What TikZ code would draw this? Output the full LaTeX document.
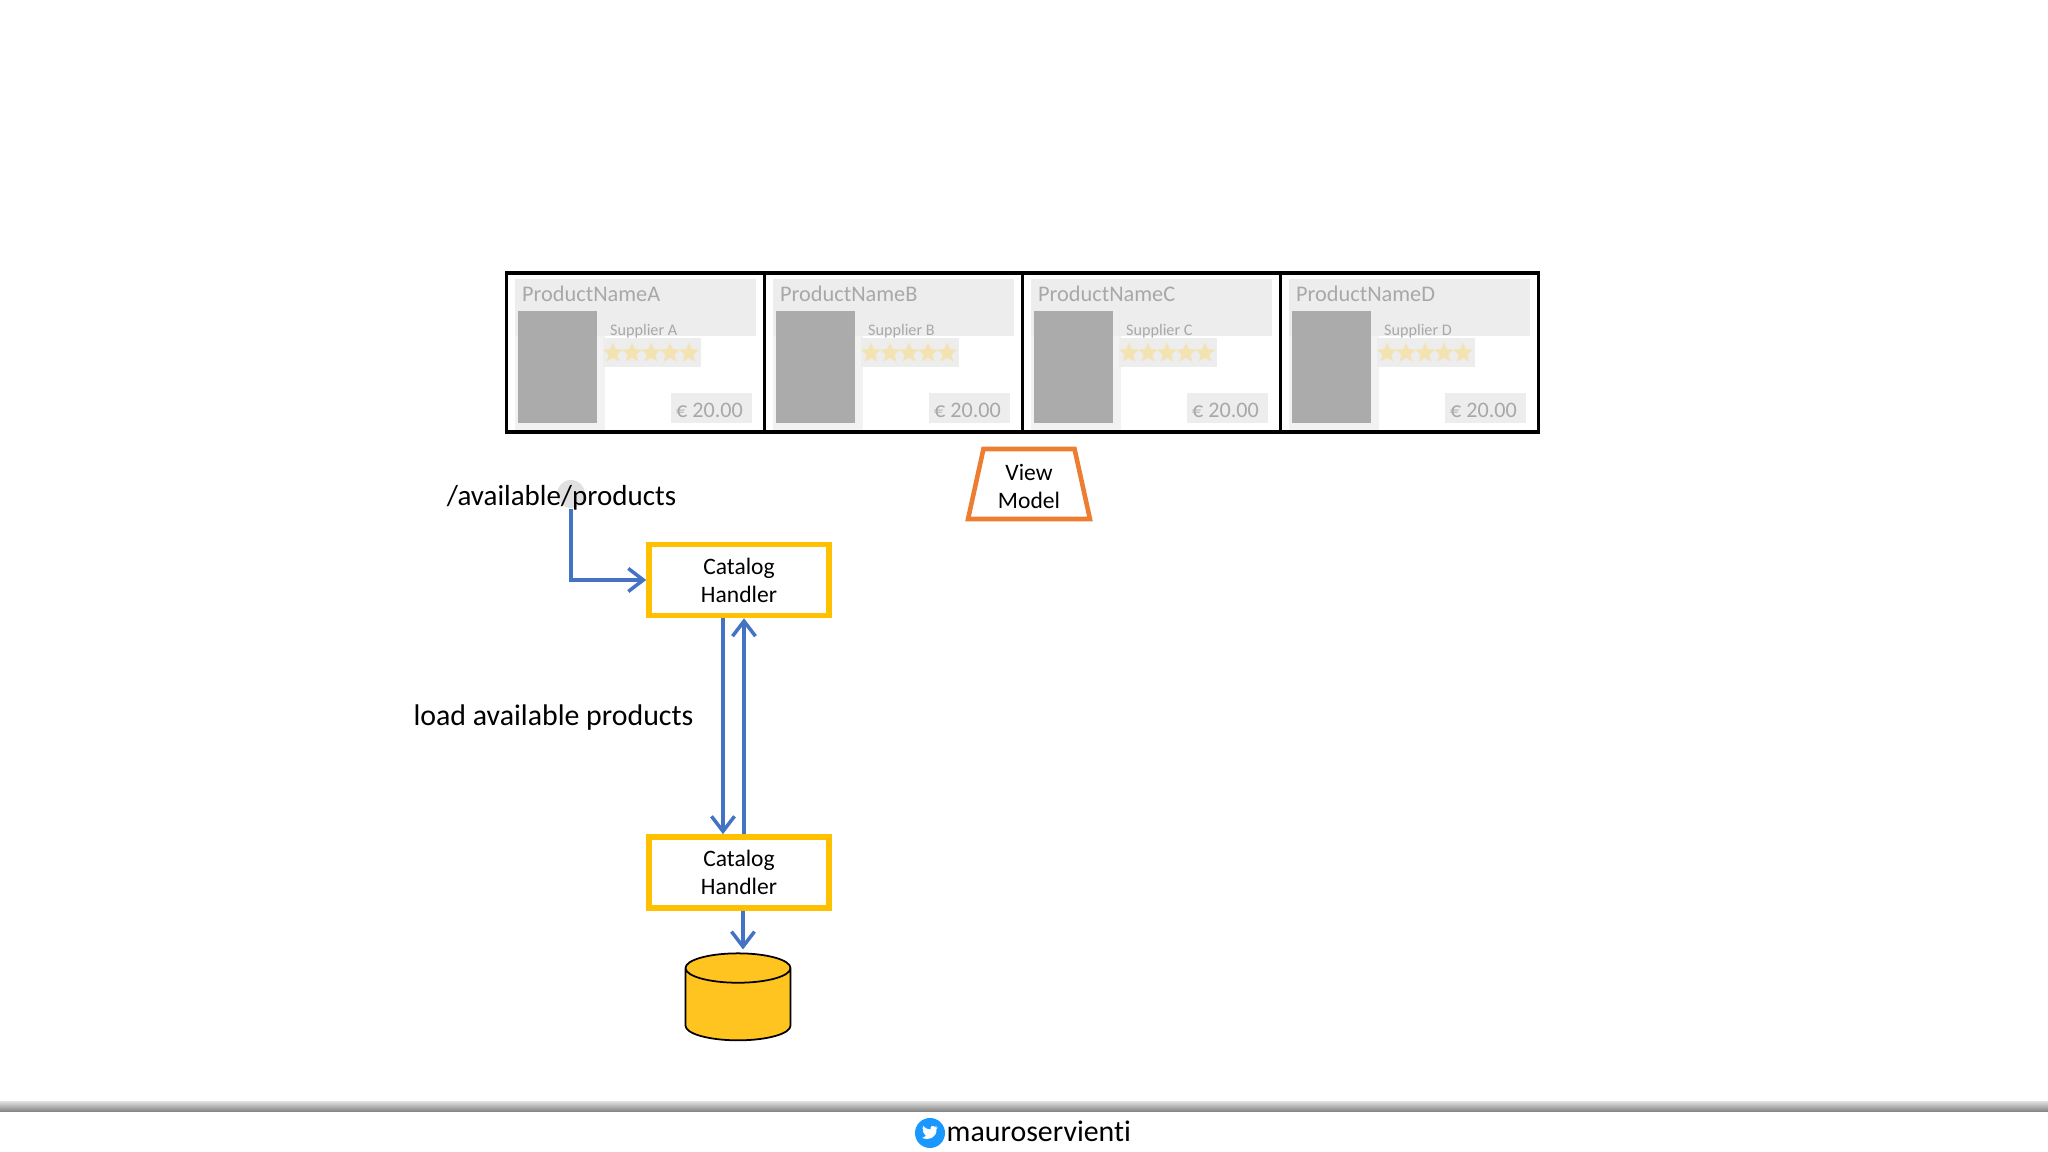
\documentclass[tikz,border=0pt]{standalone}
\usepackage{fontspec}
\setmainfont[Ligatures=NoCommon]{Carlito}
\usepackage{xcolor}
\usepackage{tikz}
\usetikzlibrary{shapes.geometric, shapes.symbols, arrows.meta, positioning}

\definecolor{flowblue}{HTML}{4472C4}
\definecolor{handleryellow}{HTML}{FFC000}
\definecolor{dbyellow}{HTML}{FFC41F}
\definecolor{vmorange}{HTML}{ED7D31}
\definecolor{cardgrey}{HTML}{EDEDED}
\definecolor{cardtext}{HTML}{A8A8A8}
\definecolor{stargold}{HTML}{F3E3B3}

\tikzset{
    handlerbox/.style={draw=handleryellow, line width=1.6pt, fill=white,
        minimum width=1.80cm, minimum height=.71cm, inner sep=0pt,
        align=center, font=\fontsize{6.7}{8}\selectfont},
    flowline/.style={draw=flowblue, line width=1pt,
        -{Straight Barb[length=1.5mm, width=2.3mm, line width=1pt]}},
    cardframe/.style={draw=black, line width=.9pt, minimum width=2.58cm, minimum height=1.59cm, inner sep=0pt},
    cardrect/.style={fill=#1, inner sep=0pt},
    bigtext/.style={font=\fontsize{8.5}{9}\selectfont, inner sep=0pt}
}

\begin{document}
\begin{tikzpicture}

\useasboundingbox (0,0) rectangle (20.48,11.52);

% product cards
\foreach \i/\cardx/\cardname in {A/5.065, B/7.645, C/10.225, D/12.805}{
\begin{scope}[shift={(\cardx,0)}]
\node[cardframe] at (1.29,7.995) (frame\i) {};
\node[cardrect=cardgrey!70, minimum width=.9cm, minimum height=1.19cm] at (.53,7.815) (halo\i) {};
\node[cardrect=cardgrey, minimum width=2.41cm, minimum height=.57cm] at (1.285,8.445) (header\i) {};
\node[cardrect=black!33, minimum width=.79cm, minimum height=1.12cm] at (.51,7.85) (image\i) {};
\node[cardrect=cardgrey, minimum width=.98cm, minimum height=.29cm] at (1.45,7.995) (starbg\i) {};
\node[cardrect=cardgrey, minimum width=.81cm, minimum height=.30cm] at (2.05,7.44) (pricebg\i) {};
\node[anchor=west, inner sep=0pt, text=cardtext, font=\fontsize{6.35}{7}\selectfont] at (.15,8.58) (name\i) {ProductName\i};
\node[anchor=west, inner sep=0pt, text=cardtext, font=\fontsize{4.6}{5}\selectfont] at (1.03,8.21) (supplier\i) {Supplier \i};
\node[inner sep=0pt, text=cardtext, font=\fontsize{6.3}{7}\selectfont] at (2.03,7.42) (price\i) {€ 20.00};
\foreach \s/\starx in {1/1.065, 2/1.255, 3/1.445, 4/1.635, 5/1.825}{
    \node[star, star points=5, star point ratio=2.2, fill=stargold, inner sep=0pt,
        minimum size=.21cm] at (\starx,7.99) (star\i\s) {};
}
\end{scope}
}

% view model
\node[draw=vmorange, line width=1.3pt, trapezium, trapezium left angle=78, trapezium right angle=78,
    trapezium stretches, minimum width=1.22cm, minimum height=.70cm, inner sep=0pt,
    align=center, font=\fontsize{6.7}{8}\selectfont] at (10.29,6.68) (viewmodel) {\rule{0pt}{6pt}View\\Model};

% composition side
\node[circle, fill=black!12, minimum size=.28cm, inner sep=0pt] at (5.71,6.58) (clickdot) {};
\node[bigtext, font=\fontsize{8.25}{9}\selectfont] at (5.615,6.54) (route) {/available/products};
\node[bigtext] at (5.535,4.34) (loadlabel) {load available products};

\node[handlerbox] at (7.39,5.72) (handlerA) {Catalog\\Handler};
\node[handlerbox] at (7.39,2.795) (handlerB) {Catalog\\Handler};

\node[draw=black, line width=.5pt, fill=dbyellow, cylinder, shape border rotate=90, aspect=.28,
    minimum height=.87cm, inner xsep=.525cm, inner ysep=0pt] at (7.38,1.40) (database) {};

\draw[flowline] (clickdot.south) |- (handlerA.west);
\draw[flowline] ([xshift=-.16cm]handlerA.south) -- ([xshift=-.16cm]handlerB.north);
\draw[flowline] ([xshift=.05cm]handlerB.north) -- ([xshift=.05cm]handlerA.south);
\draw[flowline] ([xshift=.04cm]handlerB.south) -- ([xshift=.05cm,yshift=.03cm]database.north);

% footer
\fill[top color=black!15, bottom color=black!50] (0,.40) rectangle (20.48,.50);
\node[circle, fill=blue!45!cyan!90, minimum size=.30cm, inner sep=0pt] at (9.30,.19) (twitter) {};
\begin{scope}[shift={(twitter.center)}, x=.1mm, y=.1mm]
\fill[white] (-8,-5) .. controls (-2,-8) and (7,-5) .. (6.5,4) -- (8,5.5) -- (6,5.3) -- (6.5,7) -- (4.7,6)
    .. controls (3,8) and (0,7) .. (.5,3.5) .. controls (-2.5,3.5) and (-5,5) .. (-7,7)
    .. controls (-8,5) and (-7.5,3.5) .. (-6,2) -- (-7.3,2.5) .. controls (-7.3,1) and (-6.5,0) .. (-5,-.5)
    -- (-6.3,-.5) .. controls (-5.8,-1.5) and (-5,-2) .. (-4,-2.5) .. controls (-5,-3.8) and (-6.5,-4.5) .. (-8,-5) -- cycle;
\end{scope}
\node[bigtext] [anchor=west] at (9.46,.21) (handle) {mauroservienti};

\end{tikzpicture}
\end{document}
